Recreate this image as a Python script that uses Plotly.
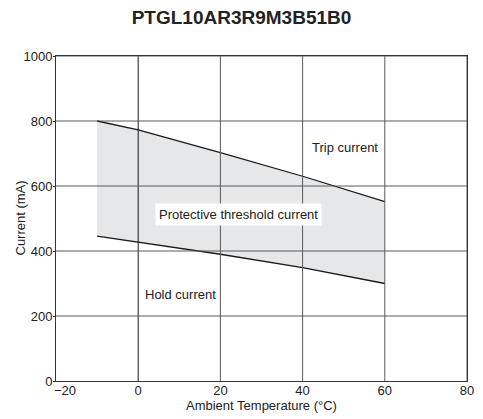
import plotly.graph_objects as go

title = "PTGL10AR3R9M3B51B0"
temps = [-10, 0, 20, 40, 60]
trip_current = [800, 773, 703, 630, 552]
hold_current = [446, 427, 390, 349, 300]
x_ticks = [-20, 0, 20, 40, 60, 80]
x_tick_labels = ["", "0", "20", "40", "60", "80"]
x_first_label = "\u221220"
y_ticks = [0, 200, 400, 600, 800, 1000]
x_title = "Ambient Temperature (\u00b0C)"
y_title = "Current (mA)"

FONT = "Liberation Sans, Arial, sans-serif"
# the html page has an 8px body margin; compensate so the figure fills the 483x419 window
W, H = 475, 411

fig = go.Figure()
fig.add_trace(go.Scatter(x=temps, y=hold_current, mode="lines",
                         line=dict(color="rgba(0,0,0,0)", width=0),
                         showlegend=False, hoverinfo="skip"))
fig.add_trace(go.Scatter(x=temps, y=trip_current, mode="lines",
                         line=dict(color="rgba(0,0,0,0)", width=0),
                         fill="tonexty", fillcolor="#e6e7e9",
                         showlegend=False, hoverinfo="skip"))

for xv in x_ticks[1:]:
    fig.add_shape(type="line", xref="x", yref="y", x0=xv, x1=xv, y0=0, y1=1000,
                  line=dict(color="#1a1a1a" if xv == 0 else "#5a5a5a", width=1), layer="above")
for yv in y_ticks[1:]:
    fig.add_shape(type="line", xref="x", yref="y", x0=-20, x1=80, y0=yv, y1=yv,
                  line=dict(color="#5a5a5a", width=1), layer="above")

fig.add_trace(go.Scatter(x=temps, y=trip_current, mode="lines",
                         line=dict(color="#1a1a1a", width=1.3), showlegend=False))
fig.add_trace(go.Scatter(x=temps, y=hold_current, mode="lines",
                         line=dict(color="#1a1a1a", width=1.3), showlegend=False))

ann_font = dict(family=FONT, size=13, color="#222")
fig.add_annotation(x=50.4, y=718, text="Trip current", showarrow=False, font=ann_font)
fig.add_annotation(x=24.4, y=512, text="Protective threshold current", showarrow=False,
                   bgcolor="white", borderpad=3, font=ann_font)
fig.add_annotation(x=10.2, y=265, text="Hold current", showarrow=False, font=ann_font)

# first x tick label, nudged right as in the reference so it clears the y "0" label
fig.add_annotation(x=x_ticks[0], y=y_ticks[0], text=x_first_label, showarrow=False,
                   xanchor="center", yanchor="middle", xshift=9, yshift=-9, font=ann_font)

# axis titles as annotations for exact placement
fig.add_annotation(xref="paper", yref="paper", x=0.5, y=-24 / 325, yanchor="middle",
                   text=x_title, showarrow=False, font=ann_font)
fig.add_annotation(xref="paper", yref="paper", x=-36 / 411, y=0.5, xanchor="center",
                   textangle=-90, text=y_title, showarrow=False, font=ann_font)

fig.update_layout(
    width=W, height=H,
    margin=dict(l=48, r=16, t=48, b=38, autoexpand=False),
    paper_bgcolor="white", plot_bgcolor="white",
    title=dict(text="<b>" + title + "</b>", x=(483 / 2 - 8) / W, xanchor="center",
               y=1 - 9.5 / H, yanchor="middle",
               font=dict(family=FONT, size=19, color="#222")),
    font=dict(family=FONT, size=13, color="#222"),
    xaxis=dict(range=[-20, 80], tickvals=x_ticks, ticktext=x_tick_labels,
               showgrid=False, zeroline=False, showline=True, linecolor="#333", linewidth=1,
               mirror=True, ticks="", automargin=False, ticklabelstandoff=-3,
               tickfont=dict(family=FONT, size=13)),
    yaxis=dict(range=[0, 1000], tickvals=y_ticks,
               showgrid=False, zeroline=False, showline=True, linecolor="#333", linewidth=1,
               mirror=True, ticks="outside", ticklen=2, tickcolor="#333", automargin=False,
               ticklabelstandoff=-2,
               tickfont=dict(family=FONT, size=13)),
)

fig.write_html("out.html")
